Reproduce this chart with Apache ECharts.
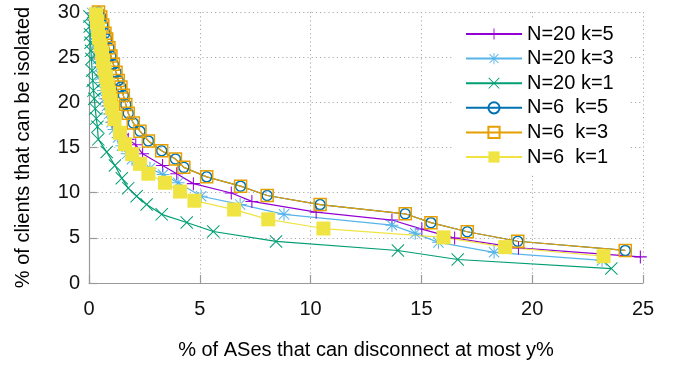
<!DOCTYPE html>
<html>
<head>
<meta charset="utf-8">
<script src="https://cdn.jsdelivr.net/npm/echarts@6/dist/echarts.min.js"></script>
<style>
html,body{margin:0;padding:0;background:#fff;}
#c{width:673px;height:365px;}
</style>
</head>
<body>
<div id="c"></div>
<script>
// Series names
const seriesNames = ['N=20 k=5', 'N=20 k=3', 'N=20 k=1', 'N=6  k=5', 'N=6  k=3', 'N=6  k=1'];

// N=20 k=5 (purple +)
const n20k5 = [[0.18,29.9],[0.23,29.1],[0.27,28.2],[0.32,27.4],[0.36,26.5],[0.43,25.6],[0.50,24.8],[0.54,23.9],[0.61,23.0],[0.68,22.2],[0.74,21.3],[0.81,20.4],[0.90,19.6],[0.99,18.7],[1.08,17.8],[1.26,17.0],[1.49,16.4],[1.77,15.9],[2.11,15.3],[2.42,14.3],[3.32,13.0],[3.96,12.1],[4.71,11.0],[6.42,9.96],[7.35,9.03],[10.25,7.84],[13.67,6.97],[15.02,5.97],[16.50,4.97],[19.38,3.88],[24.88,2.89]];
// N=20 k=3 (light blue *)
const n20k3 = [[0.14,29.9],[0.18,29.1],[0.23,28.2],[0.27,27.4],[0.32,26.5],[0.36,25.6],[0.41,24.8],[0.45,23.9],[0.52,23.0],[0.59,22.2],[0.65,21.3],[0.72,20.4],[0.81,19.6],[0.90,18.7],[1.02,17.8],[1.13,17.0],[1.31,16.1],[1.49,15.2],[1.72,14.3],[1.94,13.7],[2.23,13.2],[2.75,12.7],[3.34,12.0],[4.02,11.1],[5.06,9.6],[6.82,8.7],[8.80,7.6],[13.67,6.4],[14.72,5.5],[15.77,4.5],[18.28,3.4],[23.15,2.5]];
// N=20 k=1 (green x)
const n20k1 = [[0.02,29.5],[0.03,28.4],[0.05,27.5],[0.07,26.6],[0.09,25.7],[0.11,24.8],[0.14,23.5],[0.17,22.4],[0.20,21.3],[0.24,20.4],[0.28,19.3],[0.33,18.2],[0.38,17.3],[0.42,15.9],[0.80,14.5],[1.17,13.0],[1.48,11.6],[1.77,10.5],[2.15,9.6],[2.60,8.7],[3.28,7.6],[4.41,6.7],[5.61,5.7],[8.44,4.6],[13.94,3.6],[16.64,2.6],[23.57,1.6]];
// N=6 k=5 (blue circle)
const n6k5 = [[0.43,30.0],[0.53,29.46],[0.62,28.56],[0.72,27.66],[0.80,27.0],[0.90,26.03],[0.99,25.12],[1.10,24.22],[1.22,23.32],[1.32,22.41],[1.44,21.69],[1.55,20.78],[1.66,19.77],[1.77,18.8],[2.0,17.71],[2.3,16.81],[2.68,15.73],[3.28,14.64],[3.9,13.73],[4.28,12.8],[5.31,11.75],[6.84,10.72],[8.04,9.69],[10.43,8.68],[14.27,7.66],[15.43,6.68],[17.07,5.67],[19.35,4.62],[24.2,3.61]];
// N=6 k=3 (orange square)
const n6k3 = [[0.43,30.0],[0.53,29.46],[0.62,28.56],[0.72,27.66],[0.80,27.0],[0.90,26.03],[0.99,25.12],[1.10,24.22],[1.22,23.32],[1.32,22.41],[1.44,21.69],[1.55,20.78],[1.66,19.77],[1.77,18.8],[2.0,17.71],[2.3,16.81],[2.68,15.73],[3.28,14.64],[3.9,13.73],[4.28,12.8],[5.31,11.75],[6.84,10.72],[8.04,9.69],[10.43,8.68],[14.27,7.66],[15.43,6.68],[17.07,5.67],[19.35,4.62],[24.2,3.61]];
// N=6 k=1 (yellow filled square)
const n6k1 = [[0.32,29.75],[0.36,28.88],[0.41,28.02],[0.45,27.15],[0.52,26.28],[0.59,25.42],[0.63,24.55],[0.70,23.68],[0.77,22.81],[0.84,21.94],[0.90,21.07],[0.97,20.21],[1.04,19.34],[1.15,18.14],[1.40,16.63],[1.63,15.36],[1.95,14.27],[2.30,13.19],[2.68,12.10],[3.43,11.10],[4.11,10.12],[4.76,9.11],[6.55,8.13],[8.09,7.05],[10.58,6.03],[16.0,5.05],[18.78,3.97],[23.22,2.96]];

const xTitle = '% of ASes that can disconnect at most y%';
const yTitle = '% of clients that can be isolated';

const colors = ['#9400d3', '#56b4e9', '#009e73', '#0072b2', '#e69f00', '#f0e442'];
const PLUS = 'path://M9.2,0h1.6v20h-1.6zM0,9.2h20v1.6h-20z';
const CROSS = 'path://M0,1.1L1.1,0L20,18.9L18.9,20ZM18.9,0L20,1.1L1.1,20L0,18.9Z';
const STAR = 'path://M9.2,0h1.6v20h-1.6zM0,9.2h20v1.6h-20zM1.5,2.6L2.6,1.5L18.5,17.4L17.4,18.5ZM17.4,1.5L18.5,2.6L2.6,18.5L1.5,17.4Z';

const datas = [n20k5, n20k3, n20k1, n6k5, n6k3, n6k1];
const symbols = [PLUS, STAR, CROSS, 'circle', 'rect', 'rect'];
const sizes = [13, 13, 13, 10, 12, 14];

const series = datas.map((d, i) => {
  let itemStyle;
  if (i === 3 || i === 4) {
    itemStyle = {color: 'rgba(0,0,0,0)', borderColor: colors[i], borderWidth: 1.5};
  } else {
    itemStyle = {color: colors[i], borderWidth: 0};
  }
  return {
    name: seriesNames[i],
    type: 'line',
    data: d,
    symbol: symbols[i],
    symbolSize: sizes[i],
    showSymbol: true,
    showAllSymbol: true,
    clip: true,
    lineStyle: {color: colors[i], width: 1.2},
    itemStyle: itemStyle,
    emphasis: {disabled: true},
    animation: false
  };
});

const chart = echarts.init(document.getElementById('c'), null, {renderer: 'canvas'});
const font = '"Liberation Sans", Arial, Helvetica, sans-serif';
chart.setOption({
  animation: false,
  backgroundColor: '#fff',
  textStyle: {fontFamily: font},
  grid: {left: 89, right: 30, top: 12, bottom: 77, containLabel: false},
  legend: {
    orient: 'vertical',
    left: 452,
    top: 20,
    padding: [4, 16, 6, 13],
    backgroundColor: '#fff',
    itemWidth: 56,
    itemHeight: 14,
    itemGap: 4.6,
    textStyle: {fontSize: 20, color: '#000', fontFamily: font, lineHeight: 20},
    data: seriesNames
  },
  xAxis: {
    type: 'value', min: 0, max: 25, interval: 5,
    name: xTitle, nameLocation: 'middle', nameGap: 57,
    nameTextStyle: {fontSize: 20, color: '#000', fontFamily: font},
    axisLine: {show: true, lineStyle: {color: '#999', width: 1.2}},
    axisTick: {show: true, inside: true, length: 8, lineStyle: {color: '#999', width: 1.2}},
    axisLabel: {fontSize: 20, color: '#111', margin: 16, fontFamily: font},
    splitLine: {show: true, lineStyle: {color: '#aaa', type: [1.2, 3], width: 1}}
  },
  yAxis: {
    type: 'value', min: 0, max: 30, interval: 5,
    name: yTitle, nameLocation: 'middle', nameGap: 56, nameRotate: 90,
    nameTextStyle: {fontSize: 20, color: '#000', fontFamily: font},
    axisLine: {show: true, lineStyle: {color: '#999', width: 1.2}},
    axisTick: {show: true, inside: true, length: 8, lineStyle: {color: '#999', width: 1.2}},
    axisLabel: {fontSize: 20, color: '#111', margin: 9, fontFamily: font},
    splitLine: {show: true, lineStyle: {color: '#aaa', type: [1.2, 3], width: 1}}
  },
  series: series
});
</script>
</body>
</html>
